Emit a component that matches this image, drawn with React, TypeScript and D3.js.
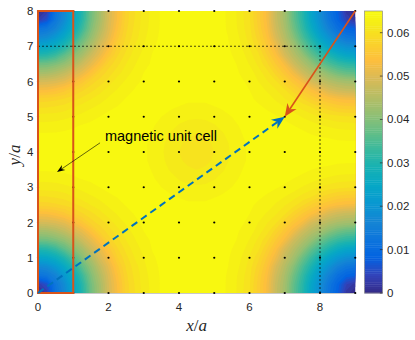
import React, { useEffect, useRef } from 'react';
import * as d3 from 'd3';

// |m| on a 0.25a grid, in units of 1e-4.
// rows run from y = 8 (top) down to y = 0, columns from x = 0 to x = 9
const gridStep = 0.25;
const fieldRows: number[][] = [
  [0, 30, 120, 170, 240, 303, 380, 431, 490, 533, 578, 598, 617, 628, 639, 642, 645, 647, 650, 647, 645, 639, 632, 616, 599, 566, 529, 473, 430, 366, 310, 239, 180, 122, 80, 20, 0],
  [30, 60, 130, 180, 247, 310, 384, 435, 492, 535, 579, 599, 618, 628, 639, 642, 645, 647, 650, 647, 645, 639, 632, 617, 600, 567, 530, 475, 433, 370, 314, 245, 187, 130, 88, 40, 20],
  [120, 130, 160, 210, 268, 331, 396, 447, 498, 543, 582, 602, 618, 630, 639, 642, 645, 647, 650, 647, 645, 639, 633, 618, 602, 571, 535, 483, 440, 383, 327, 265, 206, 155, 113, 88, 80],
  [170, 180, 210, 254, 303, 366, 415, 466, 510, 555, 587, 605, 621, 632, 640, 642, 645, 648, 650, 648, 645, 641, 634, 622, 605, 579, 545, 495, 453, 404, 349, 297, 239, 193, 155, 130, 122],
  [240, 247, 268, 303, 352, 400, 443, 492, 530, 571, 594, 612, 624, 635, 641, 644, 646, 649, 650, 649, 646, 642, 635, 625, 610, 589, 557, 519, 470, 433, 379, 331, 284, 239, 206, 187, 180],
  [303, 310, 331, 366, 400, 435, 478, 513, 553, 583, 602, 618, 628, 638, 641, 644, 647, 649, 650, 649, 647, 644, 637, 631, 616, 601, 571, 539, 492, 455, 417, 370, 331, 297, 265, 245, 239],
  [380, 384, 396, 415, 443, 478, 509, 543, 578, 594, 611, 623, 633, 639, 642, 645, 647, 650, 650, 650, 647, 645, 640, 634, 623, 608, 588, 558, 529, 483, 450, 417, 379, 349, 327, 314, 310],
  [431, 435, 447, 466, 492, 513, 543, 574, 591, 605, 619, 628, 637, 640, 643, 645, 647, 648, 648, 648, 647, 645, 641, 636, 631, 617, 603, 579, 552, 522, 483, 455, 433, 404, 383, 370, 366],
  [490, 492, 498, 510, 530, 553, 578, 591, 603, 618, 626, 634, 639, 641, 643, 644, 646, 646, 646, 646, 646, 644, 643, 639, 634, 624, 612, 600, 576, 552, 529, 492, 470, 453, 440, 433, 430],
  [533, 535, 543, 555, 571, 583, 594, 605, 618, 625, 632, 638, 640, 641, 642, 644, 644, 644, 643, 644, 644, 644, 642, 641, 637, 632, 622, 612, 600, 579, 558, 539, 519, 495, 483, 475, 473],
  [578, 579, 582, 587, 594, 602, 611, 619, 626, 632, 638, 639, 641, 642, 642, 642, 641, 639, 639, 639, 641, 642, 642, 642, 639, 635, 632, 622, 612, 603, 588, 571, 557, 545, 535, 530, 529],
  [598, 599, 602, 605, 612, 618, 623, 628, 635, 638, 640, 641, 641, 641, 640, 638, 636, 634, 634, 634, 636, 638, 640, 641, 641, 639, 636, 632, 625, 617, 608, 601, 589, 579, 571, 567, 566],
  [617, 618, 618, 621, 624, 628, 633, 637, 640, 641, 642, 641, 641, 640, 637, 634, 629, 627, 626, 627, 629, 634, 637, 640, 641, 641, 640, 638, 635, 631, 623, 616, 610, 605, 602, 600, 599],
  [628, 628, 630, 632, 635, 638, 640, 641, 642, 643, 643, 642, 641, 638, 634, 628, 623, 619, 618, 619, 623, 628, 634, 638, 641, 642, 643, 643, 640, 637, 634, 631, 625, 622, 618, 617, 616],
  [639, 639, 639, 640, 641, 641, 642, 644, 645, 644, 645, 643, 641, 636, 629, 623, 617, 613, 611, 613, 617, 623, 629, 636, 641, 643, 645, 644, 645, 642, 640, 637, 635, 634, 633, 632, 632],
  [642, 642, 642, 642, 644, 644, 645, 646, 647, 647, 646, 644, 639, 634, 627, 619, 613, 608, 607, 608, 613, 619, 627, 634, 639, 644, 646, 647, 647, 646, 645, 644, 642, 641, 639, 639, 639],
  [645, 645, 645, 645, 646, 647, 647, 649, 649, 648, 646, 643, 639, 634, 626, 618, 611, 607, 605, 607, 611, 618, 626, 634, 639, 643, 646, 648, 649, 649, 647, 647, 646, 645, 645, 645, 645],
  [642, 642, 642, 642, 644, 644, 645, 646, 647, 647, 646, 644, 639, 634, 627, 619, 613, 608, 607, 608, 613, 619, 627, 634, 639, 644, 646, 647, 647, 646, 645, 644, 642, 641, 639, 639, 639],
  [639, 639, 639, 640, 641, 641, 642, 644, 645, 644, 645, 643, 641, 636, 629, 623, 617, 613, 611, 613, 617, 623, 629, 636, 641, 643, 645, 644, 645, 642, 640, 637, 635, 634, 633, 632, 632],
  [628, 628, 630, 632, 635, 638, 640, 641, 642, 643, 643, 642, 641, 638, 634, 628, 623, 619, 618, 619, 623, 628, 634, 638, 641, 642, 643, 643, 640, 637, 634, 631, 625, 622, 618, 617, 616],
  [617, 618, 618, 621, 624, 628, 633, 637, 640, 641, 642, 641, 641, 640, 637, 634, 629, 627, 626, 627, 629, 634, 637, 640, 641, 641, 640, 638, 635, 631, 623, 616, 610, 605, 602, 600, 599],
  [598, 599, 602, 605, 612, 618, 623, 628, 635, 638, 640, 641, 641, 641, 640, 638, 636, 634, 634, 634, 636, 638, 640, 641, 641, 639, 636, 632, 625, 617, 608, 601, 589, 579, 571, 567, 566],
  [578, 579, 582, 587, 594, 602, 611, 619, 626, 632, 638, 639, 641, 642, 642, 642, 641, 639, 639, 639, 641, 642, 642, 642, 639, 635, 632, 622, 612, 603, 588, 571, 557, 545, 535, 530, 529],
  [533, 535, 543, 555, 571, 583, 594, 605, 618, 625, 632, 638, 640, 641, 642, 644, 644, 644, 643, 644, 644, 644, 642, 641, 637, 632, 622, 612, 600, 579, 558, 539, 519, 495, 483, 475, 473],
  [490, 492, 498, 510, 530, 553, 578, 591, 603, 618, 626, 634, 639, 641, 643, 644, 646, 646, 646, 646, 646, 644, 643, 639, 634, 624, 612, 600, 576, 552, 529, 492, 470, 453, 440, 433, 430],
  [431, 435, 447, 466, 492, 513, 543, 574, 591, 605, 619, 628, 637, 640, 643, 645, 647, 648, 648, 648, 647, 645, 641, 636, 631, 617, 603, 579, 552, 522, 483, 455, 433, 404, 383, 370, 366],
  [380, 384, 396, 415, 443, 478, 509, 543, 578, 594, 611, 623, 633, 639, 642, 645, 647, 650, 650, 650, 647, 645, 640, 634, 623, 608, 588, 558, 529, 483, 450, 417, 379, 349, 327, 314, 310],
  [303, 310, 331, 366, 400, 435, 478, 513, 553, 583, 602, 618, 628, 638, 641, 644, 647, 649, 650, 649, 647, 644, 637, 631, 616, 601, 571, 539, 492, 455, 417, 370, 331, 297, 265, 245, 239],
  [240, 247, 268, 303, 352, 400, 443, 492, 530, 571, 594, 612, 624, 635, 641, 644, 646, 649, 650, 649, 646, 642, 635, 625, 610, 589, 557, 519, 470, 433, 379, 331, 284, 239, 206, 187, 180],
  [170, 180, 210, 254, 303, 366, 415, 466, 510, 555, 587, 605, 621, 632, 640, 642, 645, 648, 650, 648, 645, 641, 634, 622, 605, 579, 545, 495, 453, 404, 349, 297, 239, 193, 155, 130, 122],
  [120, 130, 160, 210, 268, 331, 396, 447, 498, 543, 582, 602, 618, 630, 639, 642, 645, 647, 650, 647, 645, 639, 633, 618, 602, 571, 535, 483, 440, 383, 327, 265, 206, 155, 113, 88, 80],
  [30, 60, 130, 180, 247, 310, 384, 435, 492, 535, 579, 599, 618, 628, 639, 642, 645, 647, 650, 647, 645, 639, 632, 617, 600, 567, 530, 475, 433, 370, 314, 245, 187, 130, 88, 40, 20],
  [0, 30, 120, 170, 240, 303, 380, 431, 490, 533, 578, 598, 617, 628, 639, 642, 645, 647, 650, 647, 645, 639, 632, 616, 599, 566, 529, 473, 430, 366, 310, 239, 180, 122, 80, 20, 0],
];

const xTicks = [0, 2, 4, 6, 8];
const yTicks = [0, 1, 2, 3, 4, 5, 6, 7, 8];
const cbarTicks = [0, 0.01, 0.02, 0.03, 0.04, 0.05, 0.06];
const cbarMax = 0.065;

// lattice sites
const siteX = [0, 1, 2, 3, 4, 5, 6, 7, 8, 9];
const siteY = [0, 1, 2, 3, 4, 5, 6, 7, 8];

// parula, every 4th entry of the 64-colour map
const parulaIdx = [0, 4, 8, 12, 16, 20, 24, 28, 32, 36, 40, 44, 48, 52, 56, 60, 63];
const parulaHex = [
  '#352A87', '#3243BA', '#0363E1', '#0D75DC', '#1485D4', '#0998D1', '#06A7C6', '#15B1B4',
  '#38B99E', '#65BE86', '#92BF73', '#B7BD64', '#D9BA56', '#FDBE3D', '#FAD32A', '#F5EB18', '#F9FB0E',
];

// annotations, in lattice units
const unitCell = [[0, 0], [1, 8]];
const guideLines = [
  [[0, 7], [8, 7]],
  [[8, 0], [8, 7]],
];
const redArrow = [[9, 8], [7, 5]];
const blueArrow = [[0, 0], [7, 5]];
const noteArrow = [[1.76, 4.26], [0.54, 3.43]];
const note = { x: 1.9, y: 4.31, text: 'magnetic unit cell' };

const W = 415;
const H = 340;
const sans = '"Liberation Sans", Arial, Helvetica, sans-serif';
const serif = '"Liberation Serif", "Times New Roman", serif';

// arrow head with a notched back (matlab "vback2")
function headPoints(p0: number[], p1: number[], len: number, half: number, notch: number) {
  const dx = p1[0] - p0[0];
  const dy = p1[1] - p0[1];
  const L = Math.hypot(dx, dy);
  const ux = dx / L, uy = dy / L;
  const px = -uy, py = ux;
  const bx = p1[0] - ux * len, by = p1[1] - uy * len;
  const nx = p1[0] - ux * (len - notch), ny = p1[1] - uy * (len - notch);
  return {
    pts: [[p1[0], p1[1]], [bx + px * half, by + py * half], [nx, ny], [bx - px * half, by - py * half]],
    base: [nx, ny],
  };
}

const App = () => {
  const svgRef = useRef<SVGSVGElement | null>(null);

  useEffect(() => {
    if (!svgRef.current) return;
    document.body.style.margin = '0';

    const x = d3.scaleLinear().domain([0, 9]).range([38, 355.25]);
    const y = d3.scaleLinear().domain([0, 8]).range([293, 11]);
    const cb = d3.scaleLinear().domain([0, cbarMax]).range([293, 11]);
    const color = d3
      .scaleLinear<string>()
      .domain(parulaIdx.map((i) => (i / 63) * cbarMax))
      .range(parulaHex)
      .clamp(true);

    const svg = d3.select(svgRef.current);
    svg.selectAll('*').remove();

    svg.append('rect').attr('width', W).attr('height', H).attr('fill', '#fff');

    svg
      .append('defs')
      .append('clipPath')
      .attr('id', 'plot-clip')
      .append('rect')
      .attr('x', x(0))
      .attr('y', y(8))
      .attr('width', x(9) - x(0))
      .attr('height', y(0) - y(8));

    // filled contours (contourf-like)
    const nx = fieldRows[0].length;
    const ny = fieldRows.length;
    const levelStep = 13;
    const levels = d3.range(0, 650, levelStep);
    const contours = d3.contours().size([nx, ny]).thresholds(levels)(fieldRows.flat());
    const gx = (c: number) => x((c - 0.5) * gridStep);
    const gy = (c: number) => y(8 - (c - 0.5) * gridStep);
    const toPlot = d3.geoTransform({
      point(px: number, py: number) {
        this.stream.point(gx(px), gy(py));
      },
    });
    const path = d3.geoPath(toPlot);

    const field = svg.append('g').attr('clip-path', 'url(#plot-clip)');
    field
      .selectAll('path')
      .data(contours)
      .enter()
      .append('path')
      .attr('d', (c) => path(c as any))
      .attr('fill', (c) => color((c.value + levelStep / 2) / 10000));

    // bottom axis line
    svg
      .append('line')
      .attr('x1', x(0))
      .attr('x2', x(9))
      .attr('y1', y(0) + 0.5)
      .attr('y2', y(0) + 0.5)
      .attr('stroke', '#b0b0b0')
      .attr('stroke-width', 0.7);

    // lattice sites
    const sites = siteX.flatMap((i) => siteY.map((j) => [i, j]));
    svg
      .append('g')
      .selectAll('circle')
      .data(sites)
      .enter()
      .append('circle')
      .attr('cx', (d) => x(d[0]))
      .attr('cy', (d) => y(d[1]))
      .attr('r', 1.1)
      .attr('fill', '#000');

    // dotted guides
    svg
      .append('g')
      .selectAll('line')
      .data(guideLines)
      .enter()
      .append('line')
      .attr('x1', (d) => x(d[0][0]))
      .attr('y1', (d) => y(d[0][1]))
      .attr('x2', (d) => x(d[1][0]))
      .attr('y2', (d) => y(d[1][1]))
      .attr('stroke', '#000')
      .attr('stroke-width', 0.7)
      .attr('stroke-dasharray', '2,2');

    // unit cell frame
    svg
      .append('rect')
      .attr('x', x(unitCell[0][0]))
      .attr('y', y(unitCell[1][1]))
      .attr('width', x(unitCell[1][0]) - x(unitCell[0][0]))
      .attr('height', y(unitCell[0][1]) - y(unitCell[1][1]))
      .attr('fill', 'none')
      .attr('stroke', '#D95319')
      .attr('stroke-width', 2);

    const drawArrow = (
      pts: number[][],
      stroke: string,
      width: number,
      dash: string | null,
      len: number,
      half: number,
      notch: number,
    ) => {
      const p0 = [x(pts[0][0]), y(pts[0][1])];
      const p1 = [x(pts[1][0]), y(pts[1][1])];
      const head = headPoints(p0, p1, len, half, notch);
      const ln = svg
        .append('line')
        .attr('x1', p0[0])
        .attr('y1', p0[1])
        .attr('x2', head.base[0])
        .attr('y2', head.base[1])
        .attr('stroke', stroke)
        .attr('stroke-width', width);
      if (dash) ln.attr('stroke-dasharray', dash);
      svg
        .append('polygon')
        .attr('points', head.pts.map((p) => p.join(',')).join(' '))
        .attr('fill', stroke);
    };

    drawArrow(blueArrow, '#0072BD', 2, '7,4.5', 13, 5.5, 4);
    drawArrow(redArrow, '#D95319', 1.6, null, 13, 5.5, 4);
    drawArrow(noteArrow, '#000', 0.6, null, 8, 3, 2.5);

    svg
      .append('text')
      .attr('x', x(note.x))
      .attr('y', y(note.y))
      .style('font-family', sans)
      .style('font-size', '14.5px')
      .attr('fill', '#000')
      .text(note.text);

    // axis tick labels
    svg
      .append('g')
      .selectAll('text')
      .data(xTicks)
      .enter()
      .append('text')
      .attr('x', (d) => x(d))
      .attr('y', y(0) + 17.5)
      .attr('text-anchor', 'middle')
      .style('font-family', sans)
      .style('font-size', '11.5px')
      .attr('fill', '#262626')
      .text((d) => d);

    svg
      .append('g')
      .selectAll('text')
      .data(yTicks)
      .enter()
      .append('text')
      .attr('x', x(0) - 4.5)
      .attr('y', (d) => y(d))
      .attr('dy', '0.35em')
      .attr('text-anchor', 'end')
      .style('font-family', sans)
      .style('font-size', '11.5px')
      .attr('fill', '#262626')
      .text((d) => d);

    // axis titles
    const xTitle = svg
      .append('text')
      .attr('x', (x(0) + x(9)) / 2)
      .attr('y', 331)
      .attr('text-anchor', 'middle')
      .style('font-family', serif)
      .style('font-size', '17px')
      .attr('fill', '#262626');
    xTitle.append('tspan').style('font-style', 'italic').text('x');
    xTitle.append('tspan').text('/');
    xTitle.append('tspan').style('font-style', 'italic').text('a');

    const yTitle = svg
      .append('text')
      .attr('transform', `translate(20, ${(y(0) + y(8)) / 2 + 3}) rotate(-90)`)
      .attr('text-anchor', 'middle')
      .style('font-family', serif)
      .style('font-size', '17px')
      .attr('fill', '#262626');
    yTitle.append('tspan').style('font-style', 'italic').text('y');
    yTitle.append('tspan').text('/');
    yTitle.append('tspan').style('font-style', 'italic').text('a');

    // colorbar
    const cbX0 = 364.5;
    const cbX1 = 382.5;
    const cbStep = cbarMax / 130;
    svg
      .append('g')
      .selectAll('rect')
      .data(d3.range(0, cbarMax - cbStep / 2, cbStep))
      .enter()
      .append('rect')
      .attr('x', cbX0)
      .attr('width', cbX1 - cbX0)
      .attr('y', (d) => cb(d + cbStep))
      .attr('height', (d) => cb(d) - cb(d + cbStep) + 0.4)
      .attr('fill', (d) => color(d + cbStep / 2));

    svg
      .append('rect')
      .attr('x', cbX0)
      .attr('y', cb(cbarMax))
      .attr('width', cbX1 - cbX0)
      .attr('height', cb(0) - cb(cbarMax))
      .attr('fill', 'none')
      .attr('stroke', '#8c8c8c')
      .attr('stroke-width', 0.7);

    const cbTick = svg.append('g').selectAll('g').data(cbarTicks).enter().append('g');
    cbTick
      .append('line')
      .attr('x1', cbX1 - 2.6)
      .attr('x2', cbX1)
      .attr('y1', (d) => cb(d))
      .attr('y2', (d) => cb(d))
      .attr('stroke', '#262626')
      .attr('stroke-width', 0.7);
    cbTick
      .append('text')
      .attr('x', cbX1 + 4.5)
      .attr('y', (d) => cb(d))
      .attr('dy', '0.35em')
      .style('font-family', sans)
      .style('font-size', '11.5px')
      .attr('fill', '#262626')
      .text((d) => (d === 0 ? '0' : d3.format('.2f')(d)));
  }, []);

  return <svg ref={svgRef} width={W} height={H} style={{ display: 'block' }} />;
};

export default App;
